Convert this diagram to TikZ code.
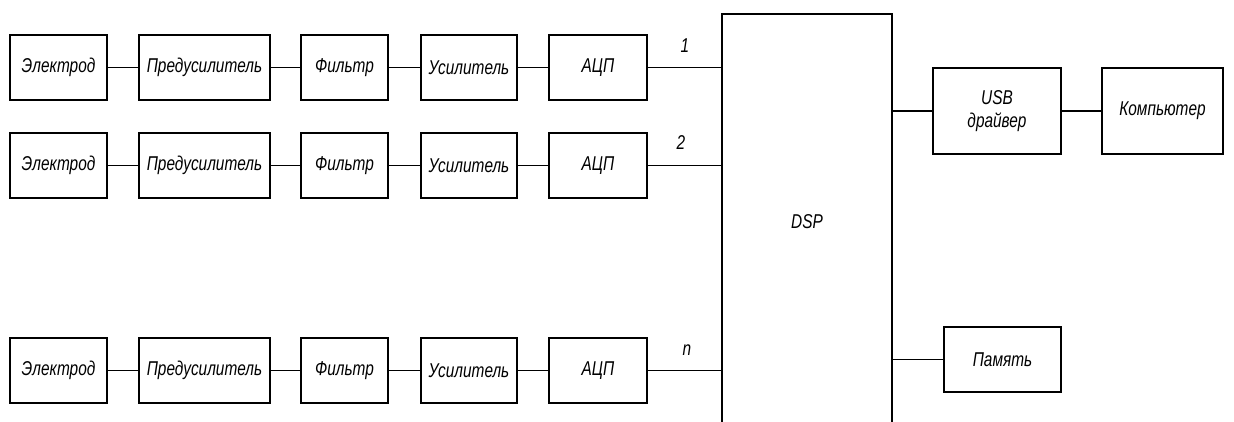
\documentclass[tikz,border=0pt]{standalone}
\usepackage{fontspec}
\setmainfont{Liberation Sans}[FakeStretch=0.77]
\begin{document}
\begin{tikzpicture}[x=1pt,y=-1pt,
  blk/.style={draw,line width=1.5pt,minimum height=65pt,inner sep=0pt,font=\itshape\fontsize{20}{23}\selectfont},
  wire/.style={line width=1.5pt},
  lbl/.style={font=\itshape\fontsize{20}{23}\selectfont,inner sep=0pt}]
\useasboundingbox (0,0) rectangle (1234,421);
\clip (0,0) rectangle (1234,421);
\foreach \r/\y in {1/67.5,2/165.5,3/370.5}{
  \node[blk,minimum width=97pt] (e\r) at (58.5,\y) {Электрод};
  \node[blk,minimum width=131pt] (p\r) at (204.5,\y) {Предусилитель};
  \node[blk,minimum width=87pt] (f\r) at (344.5,\y) {Фильтр};
  \node[blk,minimum width=96pt] (u\r) at (469,\y) {Усилитель};
  \node[blk,minimum width=98pt] (a\r) at (598,\y) {АЦП};
}
\node[blk,minimum width=170pt,minimum height=416pt] (dsp) at (807,222) {DSP};
\foreach \r in {1,2,3}{
  \draw[wire] (e\r) -- (p\r);
  \draw[wire] (p\r) -- (f\r);
  \draw[wire] (f\r) -- (u\r);
  \draw[wire] (u\r) -- (a\r);
  \draw[wire] (a\r) -- (a\r -| dsp.west);
}
\node[lbl] (n1) at (685,46) {1};
\node[lbl] (n2) at (681,143) {2};
\node[lbl] (n3) at (687,350) {n};
\node[blk,minimum width=128pt,minimum height=86pt,align=center] (usb) at (997,111) {USB\\драйвер};
\node[blk,minimum width=121pt,minimum height=86pt] (pc) at (1162.5,111) {Компьютер};
\node[blk,minimum width=117pt] (mem) at (1002.5,359.5) {Память};
\draw[wire] (usb -| dsp.east) -- (usb);
\draw[wire] (usb) -- (pc);
\draw[wire] (mem -| dsp.east) -- (mem);
\end{tikzpicture}
\end{document}
